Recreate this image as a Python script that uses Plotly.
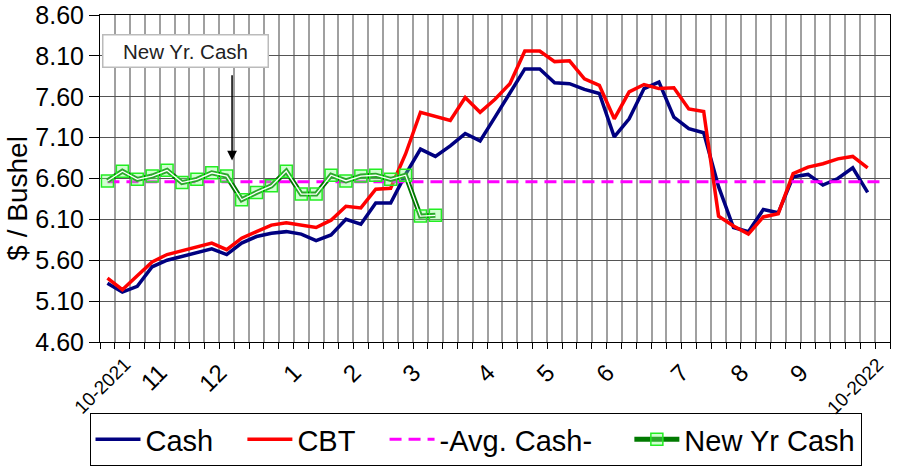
import plotly.graph_objects as go

# ---- data ----
week_labels = [""] * 53
month_ticks = {0: "10-2021", 4: "11", 8: "12", 13: "1", 17: "2", 21: "3", 26: "4",
               30: "5", 34: "6", 39: "7", 43: "8", 47: "9", 52: "10-2022"}
for k, v in month_ticks.items():
    week_labels[k] = v

cash = [5.32, 5.21, 5.28, 5.52, 5.60, 5.65, 5.69, 5.74, 5.67, 5.81, 5.89, 5.93, 5.95,
        5.92, 5.84, 5.91, 6.10, 6.04, 6.30, 6.30, 6.65, 6.96, 6.87, 7.00, 7.15, 7.06,
        7.35, 7.65, 7.94, 7.94, 7.77, 7.76, 7.69, 7.64, 7.11, 7.33, 7.70, 7.78, 7.35,
        7.21, 7.16, 6.50, 6.00, 5.95, 6.22, 6.18, 6.62, 6.65, 6.52, 6.60, 6.73, 6.43]
cbt = [5.38, 5.24, 5.41, 5.58, 5.67, 5.72, 5.77, 5.81, 5.73, 5.87, 5.95, 6.03, 6.06,
       6.03, 6.00, 6.09, 6.26, 6.24, 6.47, 6.48, 6.90, 7.41, 7.36, 7.31, 7.59, 7.41,
       7.57, 7.76, 8.16, 8.16, 8.03, 8.04, 7.82, 7.74, 7.33, 7.66, 7.75, 7.70, 7.71,
       7.45, 7.42, 6.14, 6.02, 5.92, 6.13, 6.17, 6.66, 6.74, 6.78, 6.84, 6.87, 6.73]
new_yr_cash = [6.57, 6.69, 6.59, 6.63, 6.70, 6.55, 6.59, 6.67, 6.63, 6.34, 6.43, 6.51,
               6.69, 6.41, 6.41, 6.64, 6.57, 6.63, 6.64, 6.59, 6.64, 6.14, 6.15]
avg_cash_value = 6.56
avg_cash = [avg_cash_value] * len(week_labels)

y_ticks = [4.60, 5.10, 5.60, 6.10, 6.60, 7.10, 7.60, 8.10, 8.60]

series_names = ["Cash", "CBT", "-Avg. Cash-", "New Yr Cash"]

# ---- figure ----
n = len(week_labels)
xs = list(range(n))
FONT = "Liberation Sans, Arial, sans-serif"
NB = "\u00a0"
pads = [NB * 3, NB * 3, NB * 4, ""]  # spacing after legend text

fig = go.Figure()
fig.add_trace(go.Scatter(x=xs[:len(cash)], y=cash, mode="lines", name=series_names[0] + pads[0],
                         line=dict(color="#000080", width=3.5)))
fig.add_trace(go.Scatter(x=xs[:len(cbt)], y=cbt, mode="lines", name=series_names[1] + pads[1],
                         line=dict(color="#ff0000", width=3.5)))
fig.add_trace(go.Scatter(x=xs, y=avg_cash, mode="lines", name=series_names[2] + pads[2],
                         line=dict(color="#ff00ff", width=3, dash="12px,7px")))
fig.add_trace(go.Scatter(x=xs[:len(new_yr_cash)], y=new_yr_cash, mode="lines+markers",
                         name=series_names[3] + pads[3],
                         line=dict(color="#007a00", width=5),
                         marker=dict(symbol="square", size=12,
                                     color="rgba(120,255,120,0.35)",
                                     line=dict(color="#22ee22", width=1.5))))
fig.add_trace(go.Scatter(x=xs[:len(new_yr_cash)], y=new_yr_cash, mode="lines",
                         showlegend=False, hoverinfo="skip",
                         line=dict(color="white", width=1.3)))

# month labels: plain month numbers as tick labels, the two year labels as rotated text
tickvals = [i for i, t in enumerate(week_labels) if t and "-" not in t]
ticktext = [week_labels[i] for i in tickvals]
year_label_idx = [i for i, t in enumerate(week_labels) if "-" in t]
year_shifts = {0: (-5, -43), n - 1: (-28, -44)}

annotations = [
    dict(text="$ / Bushel", xref="paper", yref="paper", x=-0.1044, y=0.44,
         textangle=-90, showarrow=False, font=dict(size=28, family=FONT),
         xanchor="center", yanchor="middle"),
    dict(text="New Yr. Cash", xref="paper", yref="paper",
         x=(185 - 100) / 790, y=(342 - 51.5) / 327,
         showarrow=False, font=dict(size=20.5, family=FONT, color="#222222"),
         bgcolor="white", bordercolor="#bbbbbb", borderwidth=1.5, borderpad=1,
         width=162, height=29, xanchor="center", yanchor="middle"),
    dict(text="", x=8.36, y=6.82, ax=8.36, ay=7.88, xref="x", yref="y",
         axref="x", ayref="y", showarrow=True, arrowhead=2, arrowsize=1.3,
         arrowwidth=1.5, arrowcolor="black"),
]
for i in year_label_idx:
    dx, dy = year_shifts.get(i, (0, -44))
    annotations.append(dict(text=week_labels[i], x=i, y=0, xref="x", yref="paper",
                            textangle=-45, showarrow=False,
                            font=dict(size=19, family=FONT, color="black"),
                            xanchor="center", yanchor="middle", xshift=dx, yshift=dy))

fig.update_layout(
    width=904, height=466,
    margin=dict(l=100, r=14, t=15, b=124, autoexpand=False),
    paper_bgcolor="white", plot_bgcolor="white",
    font=dict(family=FONT, color="black"),
    showlegend=True,
    legend=dict(orientation="h", xref="container", yref="container",
                x=0.526, xanchor="center", y=1 - 413 / 466, yanchor="top",
                bordercolor="black", borderwidth=1, bgcolor="white",
                font=dict(size=29, family=FONT), tracegroupgap=0, itemwidth=45),
    xaxis=dict(range=[-0.5, n - 0.5], tickmode="array", tickvals=tickvals,
               ticktext=ticktext, tickangle=-45, ticks="", showgrid=False,
               showline=True, linecolor="black", linewidth=1, mirror=True,
               zeroline=False, automargin=False, ticklabelshift=-7,
               ticklabelstandoff=6,
               tickfont=dict(size=24, family=FONT),
               minor=dict(tickmode="array", tickvals=[i - 0.5 for i in range(n + 1)],
                          ticks="outside", ticklen=6, tickcolor="black",
                          showgrid=True, gridcolor="#a0a0a0", gridwidth=2)),
    yaxis=dict(range=[4.6, 8.6], tickmode="array", tickvals=y_ticks,
               tickformat=".2f", ticks="outside", ticklen=10, tickcolor="black",
               showgrid=True, gridcolor="#555555", gridwidth=1,
               showline=True, linecolor="black", linewidth=1, mirror=True,
               zeroline=False, automargin=False, tickfont=dict(size=25, family=FONT)),
    annotations=annotations,
)

fig.write_html("out.html", config={"displayModeBar": False},
               post_script="document.body.style.margin='0px';")
